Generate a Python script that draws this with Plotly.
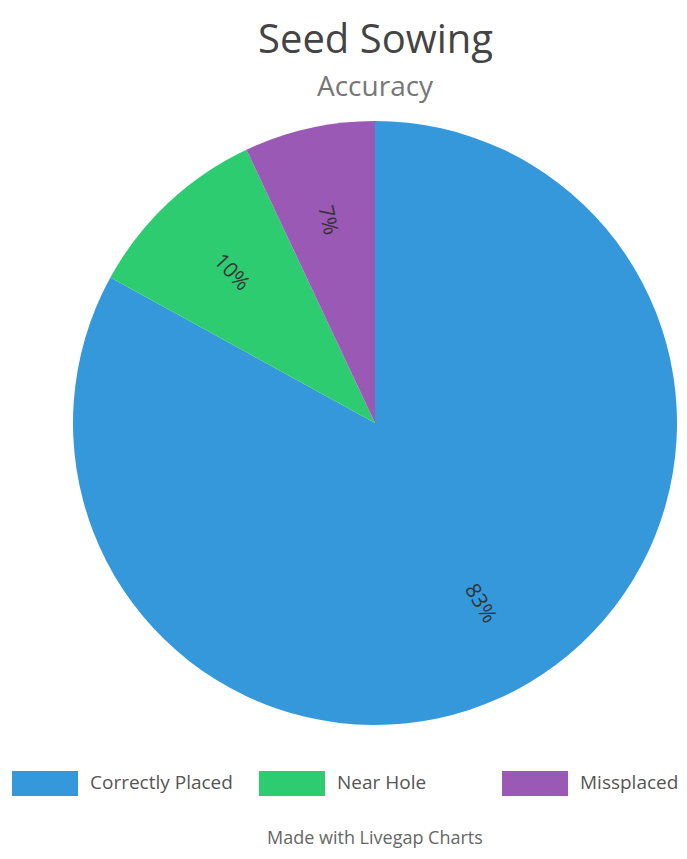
import math
import plotly.graph_objects as go

categories = ["Correctly Placed", "Near Hole", "Missplaced"]
values = [83, 10, 7]
colors = ["#3498db", "#2ecc71", "#9b59b6"]

# page has an 8px body margin; target coordinates are in window pixels
OFF = 8
W, H = 687 - 2 * OFF, 859 - 2 * OFF


def px(x):
    return (x - OFF) / W


def py(y):
    return 1 - (y - OFF) / H


CX, CY, R = 375, 423, 302

fig = go.Figure()
fig.add_trace(go.Pie(
    labels=categories,
    values=values,
    sort=False,
    direction="clockwise",
    rotation=0,
    marker=dict(colors=colors, line=dict(width=0)),
    textinfo="none",
    domain=dict(x=[px(CX - R), px(CX + R)], y=[py(CY + R), py(CY - R)]),
    showlegend=False,
    hoverinfo="label+percent",
))

shapes = []
annotations = []

# slice labels, placed radially from the data
total = sum(values)
start = 0.0
for v in values:
    mid = start + v / total * 360 / 2
    start += v / total * 360
    th = math.radians(mid)
    lx = CX + 0.69 * R * math.sin(th)
    ly = CY - 0.69 * R * math.cos(th)
    ang = mid - 90
    if ang > 90:
        ang -= 180
    annotations.append(dict(text=f"{round(v / total * 100)}%", x=px(lx), y=py(ly),
                            xref="paper", yref="paper", showarrow=False,
                            textangle=ang, xanchor="center", yanchor="middle",
                            font=dict(family="Open Sans", size=21, color="#333333")))

# title and subtitle
annotations.append(dict(text="Seed Sowing", x=px(375), y=1, xref="paper", yref="paper",
                        showarrow=False, font=dict(family="Open Sans", size=40, color="#444444"),
                        xanchor="center", yanchor="top"))
annotations.append(dict(text="Accuracy", x=px(375), y=py(85), xref="paper", yref="paper",
                        showarrow=False, font=dict(family="Open Sans", size=28, color="#777777"),
                        xanchor="center", yanchor="middle"))
annotations.append(dict(text="Made with Livegap Charts", x=px(375), y=0, xref="paper", yref="paper",
                        showarrow=False, font=dict(family="Open Sans", size=18, color="#666666"),
                        xanchor="center", yanchor="bottom"))

# custom legend
legend_x = [12, 259, 502]
for cat, col, lx in zip(categories, colors, legend_x):
    shapes.append(dict(type="rect", xref="paper", yref="paper",
                       x0=px(lx), x1=px(lx + 66), y0=py(796), y1=py(771),
                       fillcolor=col, line=dict(width=0)))
    annotations.append(dict(text=cat, x=px(lx + 76), y=py(782), xref="paper", yref="paper",
                            showarrow=False, xanchor="left", yanchor="middle",
                            font=dict(family="Open Sans", size=19, color="#555555")))

fig.update_layout(
    width=W, height=H,
    margin=dict(l=0, r=0, t=0, b=0),
    paper_bgcolor="white",
    plot_bgcolor="white",
    shapes=shapes,
    annotations=annotations,
)

fig.write_html("out.html")
